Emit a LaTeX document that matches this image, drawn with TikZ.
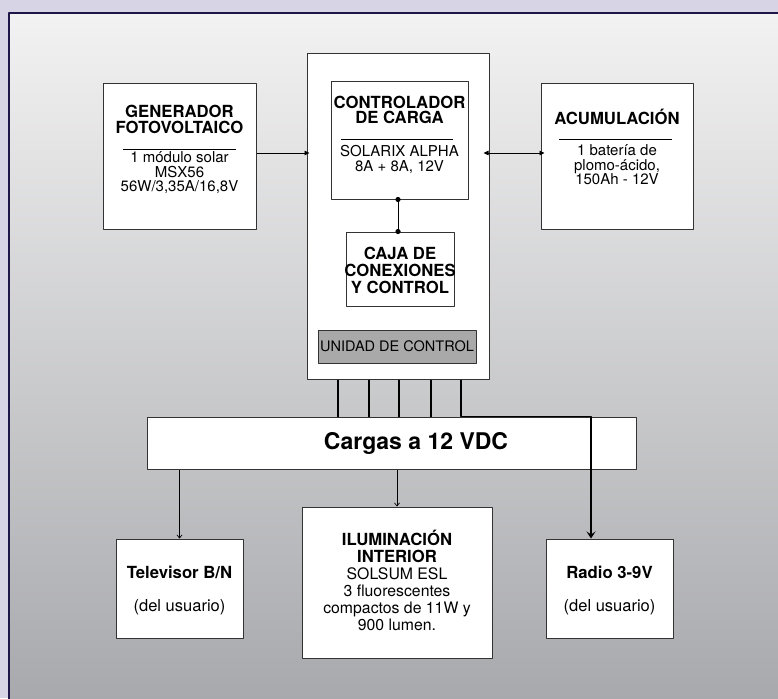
\documentclass[tikz,border=0pt]{standalone}
\usepackage{fontspec}
\setmainfont{TeX Gyre Heros}
\usetikzlibrary{arrows.meta,calc}
\definecolor{lavbg}{HTML}{D6D4E5}
\definecolor{framenavy}{HTML}{1E1548}
\definecolor{shadetop}{HTML}{F2F2F2}
\definecolor{shadebot}{HTML}{A8A9AD}
\definecolor{unitgray}{HTML}{A9A9A9}
\definecolor{boxline}{HTML}{333333}

\begin{document}
\begin{tikzpicture}[x=1pt,y=-1pt,>={Triangle[length=5pt,width=4.5pt]},line join=round,
  blk/.style={draw=boxline,fill=white,line width=1pt,inner sep=0pt},
  ttl/.style={font=\fontsize{16.7}{15.5}\selectfont\bfseries,align=center,inner sep=0pt},
  txt/.style={font=\fontsize{15}{14.5}\selectfont,align=center,inner sep=0pt},
  feed/.style={->,line width=0.8pt},
  drop/.style={-{Straight Barb[length=3pt,width=5pt]},line width=0.7pt},
  bus/.style={line width=1.5pt}]
  \useasboundingbox (0,0) rectangle (778,698);
  % background and frame
  \fill[lavbg] (0,0) rectangle (778,698);
  \shade[top color=shadetop,bottom color=shadebot] (9,13) rectangle (780,700);
  \draw[framenavy,line width=2.5pt] (9,700) -- (9,13) -- (780,13);

  % boxes
  \node[blk,minimum width=182,minimum height=325] (unit) at (398,216.5) {};
  \node[blk,minimum width=153,minimum height=145] (gen) at (179.5,156.5) {};
  \node[blk,minimum width=137,minimum height=117] (ctl) at (399.5,140.5) {};
  \node[blk,minimum width=108,minimum height=74] (caja) at (400,269) {};
  \node[blk,fill=unitgray,minimum width=158,minimum height=33] (ucon) at (397,346.5) {};
  \node[blk,minimum width=152,minimum height=145] (acum) at (617,156.5) {};
  \node[blk,minimum width=489,minimum height=52] (loads) at (391.5,443) {};
  \node[blk,minimum width=127,minimum height=99] (tv) at (179.5,588.5) {};
  \node[blk,minimum width=190,minimum height=151] (ilum) at (397,582.5) {};
  \node[blk,minimum width=127,minimum height=99] (radio) at (609.5,588.5) {};

  % rules under the titles
  \draw[line width=0.8pt] (123,149) -- (236,149);
  \draw[line width=0.8pt] (341,139) -- (453,139);
  \draw[line width=0.8pt] (559,139) -- (672,139);

  % connectors
  \draw[feed,shorten >=-3pt] ([yshift=3.5pt]gen.east) -- ([yshift=3.5pt]gen.east -| unit.west);
  \draw[feed,<->,shorten <=-4pt,shorten >=-6pt] ([yshift=3.5pt]acum.west) -- ([yshift=3.5pt]acum.west -| unit.east);
  \draw[line width=1pt] (ctl.south -| 398,0) -- (caja.north -| 398,0);
  \fill (ctl.south -| 398,0) circle (2.6pt);
  \fill (caja.north -| 398,0) circle (2.6pt);
  \foreach \xx in {338,369,399,431}
    \draw[bus] (unit.south -| \xx,0) -- (loads.north -| \xx,0);
  \draw[drop] (loads.south -| tv.north) -- (tv.north);
  \draw[drop] (loads.south -| ilum.north) -- (ilum.north);
  \draw[bus,-{Stealth[length=7pt,width=9pt,inset=3pt]}] (unit.south -| 461,0) -- (461,416.5) -| (radio.north -| 591,0);

  % texts
  \node[ttl] (genname) at (179.5,119.5) {GENERADOR\\FOTOVOLTAICO};
  \node[txt] (gendata) at (179.5,173) {1 módulo solar\\MSX56\\56W/3,35A/16,8V};
  \node[ttl] (ctlname) at (399.5,110) {CONTROLADOR\\DE CARGA};
  \node[txt] (ctldata) at (399.5,159.5) {SOLARIX ALPHA\\8A + 8A, 12V};
  \node[ttl,font=\fontsize{16.7}{17}\selectfont\bfseries] (cajaname) at (400,270) {CAJA DE\\CONEXIONES\\Y CONTROL};
  \node[txt,font=\fontsize{14.5}{14.5}\selectfont] (uconname) at (397,346.5) {UNIDAD DE CONTROL};
  \node[ttl] (acumname) at (617,117) {ACUMULACIÓN};
  \node[txt] (acumdata) at (617,165) {1 batería de\\plomo-ácido,\\150Ah - 12V};
  \node[ttl,font=\fontsize{23}{23}\selectfont\bfseries] (loadsname) at (416,443) {Cargas a 12 VDC};
  \node[ttl] (tvname) at (179.5,572) {Televisor B/N};
  \node[ttl,font=\fontsize{16.5}{16.5}\selectfont] (tvuser) at (179.5,607) {(del usuario)};
  \node[txt,font=\fontsize{15.8}{17}\selectfont] (ilumdata) at (397,580)
    {\textbf{\fontsize{16.7}{17}\selectfont ILUMINACIÓN}\\\textbf{\fontsize{16.7}{17}\selectfont INTERIOR}\\SOLSUM ESL\\3 fluorescentes\\compactos de 11W y\\900 lumen.};
  \node[ttl] (radioname) at (609.5,572) {Radio 3-9V};
  \node[ttl,font=\fontsize{16.5}{16.5}\selectfont] (radiouser) at (609.5,607) {(del usuario)};
\end{tikzpicture}
\end{document}
